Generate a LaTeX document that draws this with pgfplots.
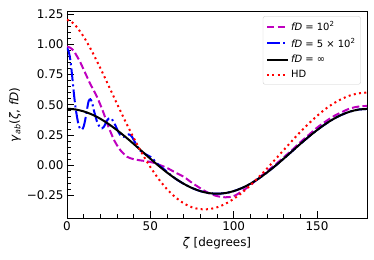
\documentclass[border=0pt]{standalone}
\usepackage{fontspec}
\setmainfont{DejaVu Sans}
\usepackage{pgfplots}
\pgfplotsset{compat=1.18}
\definecolor{mplm}{rgb}{0.75,0,0.75}
\begin{document}
\begin{tikzpicture}
\useasboundingbox (-67bp,-41.5bp) rectangle (307bp,218.5bp);
\begin{axis}[
  scale only axis, width=300bp, height=207bp,
  xmin=0, xmax=180, ymin=-0.44, ymax=1.27,
  axis line style={line width=0.9bp},
  tick align=inside, xtick pos=bottom, ytick pos=left,
  xtick={0,50,100,150}, xticklabels={0,50,100,150},
  ytick={-0.25,0,0.25,0.5,0.75,1,1.25},
  yticklabels={−0.25,0.00,0.25,0.50,0.75,1.00,1.25},
  minor x tick num=4, minor y tick num=4,
  major tick length=7bp, minor tick length=4bp,
  every tick/.style={black, line width=0.8bp},
  tick label style={font=\fontsize{12}{14}\selectfont},
  label style={font=\fontsize{12}{14}\selectfont},
  xlabel={\textit{ζ} [degrees]},
  ylabel={\textit{γ}\textsubscript{\textit{ab}}(\textit{ζ}, \textit{fD})},
  xlabel style={at={(axis description cs:0.5,-0.12)}, anchor=center},
  ylabel style={at={(axis description cs:-0.173,0.5)}, anchor=center},
  legend style={at={(axis description cs:0.979,0.977)}, anchor=north east,
    draw=black!20, rounded corners=2bp, fill=white, fill opacity=0.8, text opacity=1,
    font=\fontsize{10}{12}\selectfont, inner xsep=3bp, inner ysep=3bp, row sep=2.5bp},
  legend cell align=left,
  legend image code/.code={\draw[#1] (0bp,0bp) -- (21bp,0bp);},
]
\addplot[mplm, line width=2bp, dash pattern=on 7.4bp off 3.2bp, smooth] coordinates {
(0,0.98) (2,0.97) (4,0.945) (6,0.90) (8,0.85) (10,0.79) (12,0.73) (14,0.67) (16,0.62)
(18,0.565) (20,0.50) (22,0.43) (24,0.35) (26,0.28) (28,0.215) (30,0.165) (32,0.125)
(34,0.095) (36,0.07) (38,0.058) (40,0.05) (44,0.04) (48,0.033) (52,0.02) (56,0.0)
(60,-0.022) (65,-0.06) (70,-0.095) (75,-0.145) (80,-0.19) (85,-0.23) (90,-0.255)
(95,-0.265) (100,-0.255) (105,-0.215) (110,-0.165) (115,-0.105) (120,-0.05) (125,0.005)
(130,0.065) (135,0.125) (140,0.19) (145,0.25) (150,0.31) (155,0.36) (160,0.405)
(165,0.44) (170,0.47) (175,0.485) (180,0.49)};
\addlegendentry{\textit{fD} = 10\textsuperscript{2}}
\addplot[blue, line width=2bp, dash pattern=on 12.8bp off 3.2bp on 2bp off 3.2bp, smooth] coordinates {
(0,0.97) (1,0.94) (2,0.87) (3,0.75) (4,0.61) (5,0.49) (6,0.40) (7,0.33) (8,0.30) (9,0.295)
(10,0.32) (11,0.38) (12,0.46) (13,0.53) (14,0.545) (15,0.52) (16,0.46) (17,0.41) (18,0.36)
(19,0.33) (20,0.31) (21,0.305) (22,0.315) (23,0.34) (24,0.37) (25,0.385) (26,0.39)
(27,0.38) (28,0.355) (29,0.33) (30,0.30) (31,0.27) (32,0.25) (33,0.24) (34,0.235)
(35,0.24) (36,0.25) (37,0.255) (38,0.25) (39,0.235) (40,0.21) (42,0.16) (44,0.12)
(46,0.10) (48,0.085) (50,0.07) (52,0.045) (54,0.015) (56,-0.01) (58,-0.03) (60,-0.055)
(65,-0.110) (70,-0.153) (75,-0.188) (80,-0.214) (85,-0.230) (90,-0.235) (95,-0.230)
(100,-0.214) (105,-0.188) (110,-0.153) (115,-0.110) (120,-0.060) (125,-0.005)
(130,0.054) (135,0.115) (140,0.176) (145,0.235) (150,0.290) (155,0.340) (160,0.383)
(165,0.418) (170,0.444) (175,0.460) (180,0.465)};
\addlegendentry{\textit{fD} = 5 × 10\textsuperscript{2}}
\addplot[black, line width=2bp, smooth] coordinates {
(0,0.467) (5,0.461) (10,0.445) (15,0.419) (20,0.384) (25,0.340) (30,0.290) (35,0.235)
(40,0.176) (45,0.115) (50,0.054) (55,-0.005) (60,-0.060) (65,-0.110) (70,-0.153)
(75,-0.188) (80,-0.214) (85,-0.230) (90,-0.235) (95,-0.230) (100,-0.214) (105,-0.188)
(110,-0.153) (115,-0.110) (120,-0.060) (125,-0.005) (130,0.054) (135,0.115) (140,0.176)
(145,0.235) (150,0.290) (155,0.340) (160,0.383) (165,0.418) (170,0.444) (175,0.460)
(180,0.465)};
\addlegendentry{\textit{fD} = ∞}
\addplot[red, line width=2bp, dash pattern=on 2bp off 3.3bp, smooth] coordinates {
(0,1.200) (1,1.197) (2,1.191) (5,1.156) (10,1.062) (15,0.940) (20,0.802) (25,0.656)
(30,0.508) (35,0.363) (40,0.226) (45,0.099) (50,-0.015) (55,-0.114) (60,-0.198)
(65,-0.264) (70,-0.314) (75,-0.347) (80,-0.363) (85,-0.363) (90,-0.348) (95,-0.319)
(100,-0.278) (105,-0.227) (110,-0.166) (115,-0.099) (120,-0.027) (125,0.049)
(130,0.125) (135,0.201) (140,0.275) (145,0.344) (150,0.407) (155,0.464) (160,0.511)
(165,0.549) (170,0.577) (175,0.594) (180,0.600)};
\addlegendentry{HD}
\end{axis}
\end{tikzpicture}
\end{document}
